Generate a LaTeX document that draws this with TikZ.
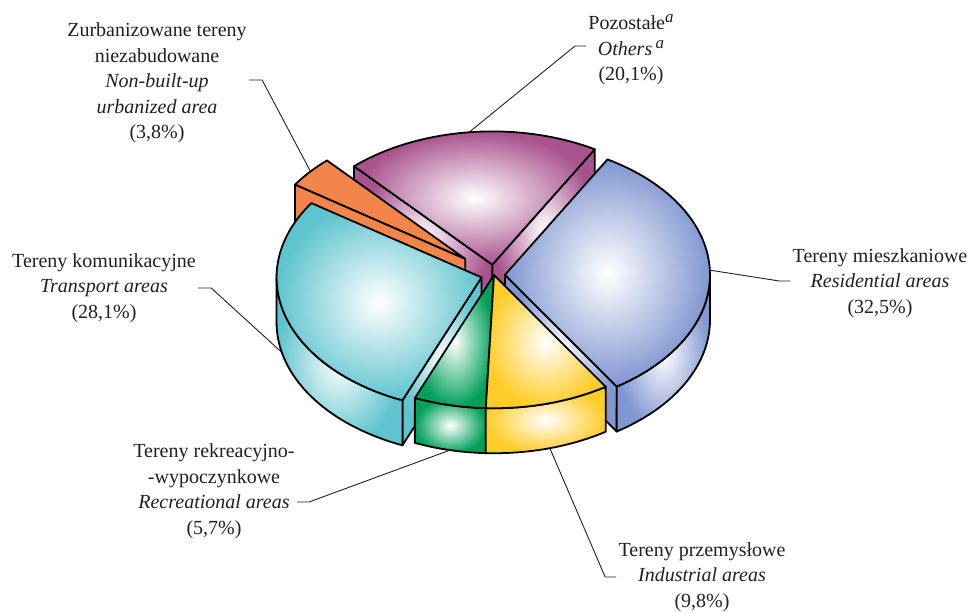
\documentclass[tikz,border=0pt]{standalone}
\usepackage{fontspec}
\setmainfont{Liberation Serif}
\usepackage{tikz}
\usetikzlibrary{calc}

\definecolor{resblue}{RGB}{128,150,208}
\definecolor{othpurple}{RGB}{168,82,142}
\definecolor{nbaorange}{RGB}{243,132,74}
\definecolor{trncyan}{RGB}{95,196,206}
\definecolor{recgreen}{RGB}{0,160,90}
\definecolor{indyellow}{RGB}{255,204,40}
\definecolor{txtgray}{RGB}{35,31,32}

\begin{document}
\begin{tikzpicture}[
        x=0.5pt, y=-0.5pt,
        declare function={
            pcx=494;
            pcy=275;
            pierad=205;
            tilt=0.65;
            dep=45;
            ex(\t)=pierad*cos(\t);
            ey(\t)=-tilt*pierad*sin(\t);
        },
        face/.style={draw=black, line width=0.9pt, line join=round, inner color=white},
        flatface/.style={draw=black, line width=0.9pt, line join=round},
        leader/.style={draw=txtgray, line width=0.45pt},
        lbltext/.style={align=center, inner sep=1pt, text=txtgray, font=\fontsize{10}{12.75}\selectfont}
    ]
        \useasboundingbox (0,0) rectangle (971,613);

        % Others (purple)
        \begin{scope}[shift={({pcx+16*cos(96.2)},{pcy-tilt*16*sin(96.2)})}]
            \draw[face, outer color=othpurple] (0,0) -- ({ex(60)},{ey(60)}) -- ++(0,dep) -- (0,dep) -- cycle;
            \draw[face, outer color=othpurple] (0,0) -- ({ex(132.4)},{ey(132.4)}) -- ++(0,dep) -- (0,dep) -- cycle;
            \draw[face, outer color=othpurple] (0,0) -- plot[domain=60:132.4, samples=40, variable=\t] ({ex(\t)},{ey(\t)}) -- cycle;
            \coordinate (cOthers) at ({ex(96.5)},{ey(96.5)});
        \end{scope}

        % Non-built-up (orange)
        \begin{scope}[shift={({pcx+38*cos(139.25)},{pcy-tilt*38*sin(139.25)})}]
            \draw[flatface, fill=nbaorange] (0,0) -- ({ex(146.1)},{ey(146.1)}) -- ++(0,dep) -- (0,dep) -- cycle;
            \draw[flatface, fill=nbaorange] (0,0) -- plot[domain=132.4:146.1, samples=20, variable=\t] ({ex(\t)},{ey(\t)}) -- cycle;
            \coordinate (cNonbuilt) at ({ex(139)},{ey(139)});
        \end{scope}

        % Residential (blue)
        \begin{scope}[shift={({pcx+11*cos(1.5)},{pcy-tilt*11*sin(1.5)})}]
            \draw[face, outer color=resblue] (0,0) -- ({ex(-57)},{ey(-57)}) -- ++(0,dep) -- (0,dep) -- cycle;
            \draw[face, outer color=resblue] plot[domain=-57:0, samples=30, variable=\t] ({ex(\t)},{ey(\t)})
                -- plot[domain=0:-57, samples=30, variable=\t] ({ex(\t)},{ey(\t)+dep}) -- cycle;
            \draw[face, outer color=resblue] (0,0) -- plot[domain=-57:60, samples=60, variable=\t] ({ex(\t)},{ey(\t)}) -- cycle;
            \coordinate (cResid) at ({ex(2)},{ey(2)});
        \end{scope}

        % Transport (cyan)
        \begin{scope}[shift={({pcx+13*cos(196.7)},{pcy-tilt*13*sin(196.7)})}]
            \draw[face, outer color=trncyan] (0,0) -- ({ex(247.3)},{ey(247.3)}) -- ++(0,dep) -- (0,dep) -- cycle;
            \draw[face, outer color=trncyan] plot[domain=180:247.3, samples=40, variable=\t] ({ex(\t)},{ey(\t)})
                -- plot[domain=247.3:180, samples=40, variable=\t] ({ex(\t)},{ey(\t)+dep}) -- cycle;
            \draw[face, outer color=trncyan] (0,0) -- plot[domain=146.1:247.3, samples=60, variable=\t] ({ex(\t)},{ey(\t)}) -- cycle;
            \coordinate (cTransport) at ({ex(193)},{ey(193)+dep});
        \end{scope}

        % Recreational (green)
        \begin{scope}[shift={(pcx,pcy)}]
            \draw[face, outer color=recgreen] plot[domain=247.3:267.7, samples=20, variable=\t] ({ex(\t)},{ey(\t)})
                -- plot[domain=267.7:247.3, samples=20, variable=\t] ({ex(\t)},{ey(\t)+dep}) -- cycle;
            \draw[face, outer color=recgreen] (0,0) -- plot[domain=247.3:267.7, samples=20, variable=\t] ({ex(\t)},{ey(\t)}) -- cycle;
            \coordinate (cRecre) at ({ex(257.6)},{ey(257.6)+dep});
        \end{scope}

        % Industrial (yellow)
        \begin{scope}[shift={(pcx,pcy)}]
            \draw[face, outer color=indyellow] plot[domain=267.7:303, samples=25, variable=\t] ({ex(\t)},{ey(\t)})
                -- plot[domain=303:267.7, samples=25, variable=\t] ({ex(\t)},{ey(\t)+dep}) -- cycle;
            \draw[face, outer color=indyellow] (0,0) -- plot[domain=267.7:303, samples=25, variable=\t] ({ex(\t)},{ey(\t)}) -- cycle;
            \coordinate (cIndus) at ({ex(285.8)},{ey(285.8)+dep});
        \end{scope}

        % labels
        \node[lbltext] (lblNonbuilt) at (157,83) {Zurbanizowane tereny\\niezabudowane\\\textit{Non-built-up}\\\textit{urbanized area}\\(3,8\%)};
        \node[lbltext] (lblOthers) at (631,50) {Pozostałe\raisebox{0.75ex}{\fontsize{8.5}{9}\selectfont\textit{a}}\\\textit{Others}\,\raisebox{0.75ex}{\fontsize{8.5}{9}\selectfont\textit{a}}\\(20,1\%)};
        \node[lbltext] (lblTransport) at (104,288) {Tereny komunikacyjne\\\textit{Transport areas}\\(28,1\%)};
        \node[lbltext] (lblResid) at (880,283) {Tereny mieszkaniowe\\\textit{Residential areas}\\(32,5\%)};
        \node[lbltext] (lblRecre) at (214,491) {Tereny rekreacyjno-\\-wypoczynkowe\\\textit{Recreational areas}\\(5,7\%)};
        \node[lbltext] (lblIndus) at (702,577) {Tereny przemysłowe\\\textit{Industrial areas}\\(9,8\%)};

        % leaders
        \draw[leader] ($(lblNonbuilt.east)+(0,-3)$) -- ++(13,0) -- (cNonbuilt);
        \draw[leader] ($(lblOthers.west)+(0,-4)$) -- ++(-11,0) -- (cOthers);
        \draw[leader] (lblTransport.east) -- ++(13,0) -- (cTransport);
        \draw[leader] ($(lblResid.west)+(0,-2)$) -- ++(-11,0) -- (cResid);
        \draw[leader] ($(lblRecre.east)+(0,11)$) -- ++(12,0) -- (cRecre);
        \draw[leader] (lblIndus.west) -- ++(-11,0) -- (cIndus);
    \end{tikzpicture}
\end{document}
